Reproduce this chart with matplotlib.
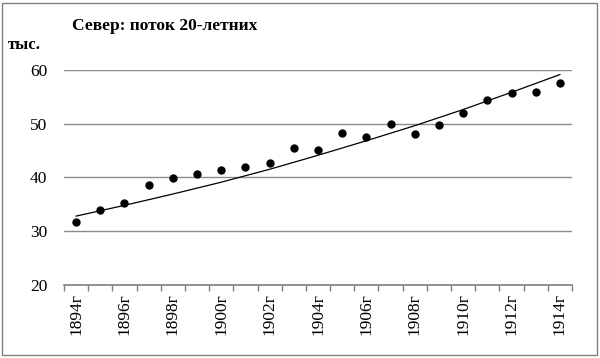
import numpy as np
import matplotlib
matplotlib.use("Agg")
import matplotlib.pyplot as plt
from matplotlib.patches import Rectangle

years = list(range(1894, 1915))
values = [31.65, 34.0, 35.3, 38.6, 39.8, 40.6, 41.4, 41.9, 42.7, 45.5, 45.0,
          48.25, 47.45, 49.9, 48.1, 49.7, 51.9, 54.3, 55.6, 55.8, 57.6]
trend_years = [1894, 1896, 1898, 1900, 1902, 1904, 1906, 1908, 1910, 1912, 1914]
trend_values = [32.8, 34.8, 36.9, 39.1, 41.5, 44.1, 46.8, 49.6, 52.6, 55.8, 59.1]
tick_years = [y for y in years if y % 2 == 0]
tick_labels = [f"{y}г" for y in tick_years]
title = "Север: поток 20-летних"
unit = "тыс."

plt.rcParams['font.family'] = ['Liberation Serif', 'DejaVu Serif']

fig = plt.figure(figsize=(6.0, 3.58), dpi=100)
ax = fig.add_axes([64/600, 1-285/358, (572-64)/600, (285-69.7)/358])

x = np.arange(len(years))
tx = [years.index(t) for t in trend_years]

ax.plot(tx, trend_values, color='black', lw=0.9, zorder=3)
ax.plot(x, values, 'o', color='black', ms=5, zorder=4, clip_on=False)

ax.set_xlim(-0.5, len(years) - 0.5)
ax.set_ylim(20, 60)
ax.set_yticks([20, 30, 40, 50, 60])
ax.yaxis.grid(True, color='#8c8c8c', lw=1.0)
ax.set_axisbelow(True)
for s in ['top', 'right', 'left']:
    ax.spines[s].set_visible(False)
ax.spines['bottom'].set_color('#808080')
ax.spines['bottom'].set_linewidth(1.2)
ax.tick_params(axis='y', length=0, pad=12, labelsize=12.5)

pos = [years.index(t) for t in tick_years]
ax.set_xticks(pos)
ax.set_xticklabels(tick_labels, rotation=90, fontsize=12.5)
ax.set_xticks(np.arange(-0.5, len(years)), minor=True)
ax.tick_params(axis='x', which='major', length=0, pad=6)
ax.tick_params(axis='x', which='minor', length=4, color='#808080', width=1)

fig.text(164.5/600, 1-26/358, title, ha='center', va='center',
         fontsize=12.5, fontweight='bold')
fig.text(8/600, 1-45/358, unit, ha='left', va='center',
         fontsize=12, fontweight='bold')

fig.patches.append(Rectangle((2/600, 3/358), 595/600, 352/358,
                             transform=fig.transFigure, fill=False,
                             edgecolor='#808080', lw=1.0))

fig.savefig('out.png', dpi=100)
